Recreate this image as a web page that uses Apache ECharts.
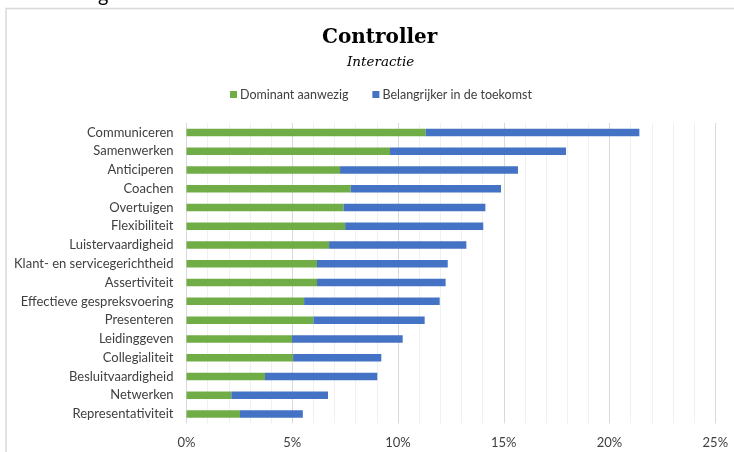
<!DOCTYPE html>
<html>
<head>
<meta charset="utf-8">
<script src="https://cdn.jsdelivr.net/npm/echarts@6/dist/echarts.min.js"></script>
<style>
  html, body { margin: 0; padding: 0; background: #ffffff; }
  #chart { width: 734px; height: 452px; }
</style>
</head>
<body>
<div id="chart"></div>
<script>
// Competencies, top to bottom
const categories = [
  'Communiceren', 'Samenwerken', 'Anticiperen', 'Coachen', 'Overtuigen',
  'Flexibiliteit', 'Luistervaardigheid', 'Klant- en servicegerichtheid',
  'Assertiviteit', 'Effectieve gespreksvoering', 'Presenteren', 'Leidinggeven',
  'Collegialiteit', 'Besluitvaardigheid', 'Netwerken', 'Representativiteit'
];
// Share (%) of respondents: competency is dominantly present
const dominantAanwezig = [
  11.31, 9.62, 7.26, 7.76, 7.43, 7.50, 6.74, 6.17,
  6.17, 5.56, 6.00, 4.99, 5.04, 3.71, 2.12, 2.53
];
// Share (%) of respondents: competency becomes more important in the future
const belangrijkerToekomst = [
  10.10, 8.32, 8.41, 7.11, 6.70, 6.53, 6.49, 6.18,
  6.08, 6.41, 5.26, 5.23, 4.17, 5.31, 4.57, 2.97
];
const xTicks = [0, 5, 10, 15, 20, 25];

const chart = echarts.init(document.getElementById('chart'));
const labelFont = 'Lato, "Open Sans", sans-serif';

chart.setOption({
  animation: false,
  backgroundColor: '#ffffff',
  title: [
    {
      text: 'Controller',
      left: 317,
      top: 23,
      textStyle: { fontFamily: '"DejaVu Serif", serif', fontWeight: 'bold', fontSize: 20, color: '#000000' }
    },
    {
      text: 'Interactie',
      left: 342,
      top: 50,
      textStyle: { fontFamily: '"DejaVu Serif", serif', fontStyle: 'italic', fontWeight: 'normal', fontSize: 13.5, color: '#000000' }
    }
  ],
  legend: {
    top: 83,
    left: 225,
    itemWidth: 7,
    itemHeight: 7,
    itemGap: 24,
    icon: 'rect',
    textStyle: { fontFamily: labelFont, fontSize: 12.5, color: '#404040', padding: [0, 0, 0, -2] },
    data: ['Dominant aanwezig', 'Belangrijker in de toekomst']
  },
  graphic: [
    {
      type: 'rect',
      shape: { x: 6, y: 8.5, width: 740, height: 460 },
      style: { fill: 'none', stroke: '#d9d9d9', lineWidth: 1.5 },
      silent: true
    },
    {
      type: 'text',
      left: 98,
      top: -14,
      style: { text: 'g', font: '20px Lato, sans-serif', fill: '#000000' },
      silent: true
    }
  ],
  grid: { left: 186.5, right: 18.7, top: 123, bottom: 28.6, containLabel: false },
  xAxis: {
    type: 'value',
    min: xTicks[0],
    max: xTicks[xTicks.length - 1],
    interval: 5,
    axisLine: { show: false },
    axisTick: { show: false },
    axisLabel: {
      margin: 13,
      fontFamily: labelFont,
      fontSize: 13,
      color: '#404040',
      formatter: v => v + '%'
    },
    splitLine: { show: true, lineStyle: { color: '#d9d9d9', width: 1 } },
    minorTick: { show: false, splitNumber: 5 },
    minorSplitLine: { show: true, lineStyle: { color: '#f0f0f0', width: 1 } }
  },
  yAxis: {
    type: 'category',
    inverse: true,
    data: categories,
    axisLine: { show: false },
    axisTick: { show: false },
    axisLabel: { margin: 13, fontFamily: labelFont, fontSize: 13, color: '#404040' }
  },
  series: [
    {
      name: 'Dominant aanwezig',
      type: 'bar',
      stack: 'totaal',
      data: dominantAanwezig,
      barWidth: 7.5,
      itemStyle: { color: '#70ad47' }
    },
    {
      name: 'Belangrijker in de toekomst',
      type: 'bar',
      stack: 'totaal',
      data: belangrijkerToekomst,
      barWidth: 7.5,
      itemStyle: { color: '#4472c4' }
    }
  ]
});
</script>
</body>
</html>
